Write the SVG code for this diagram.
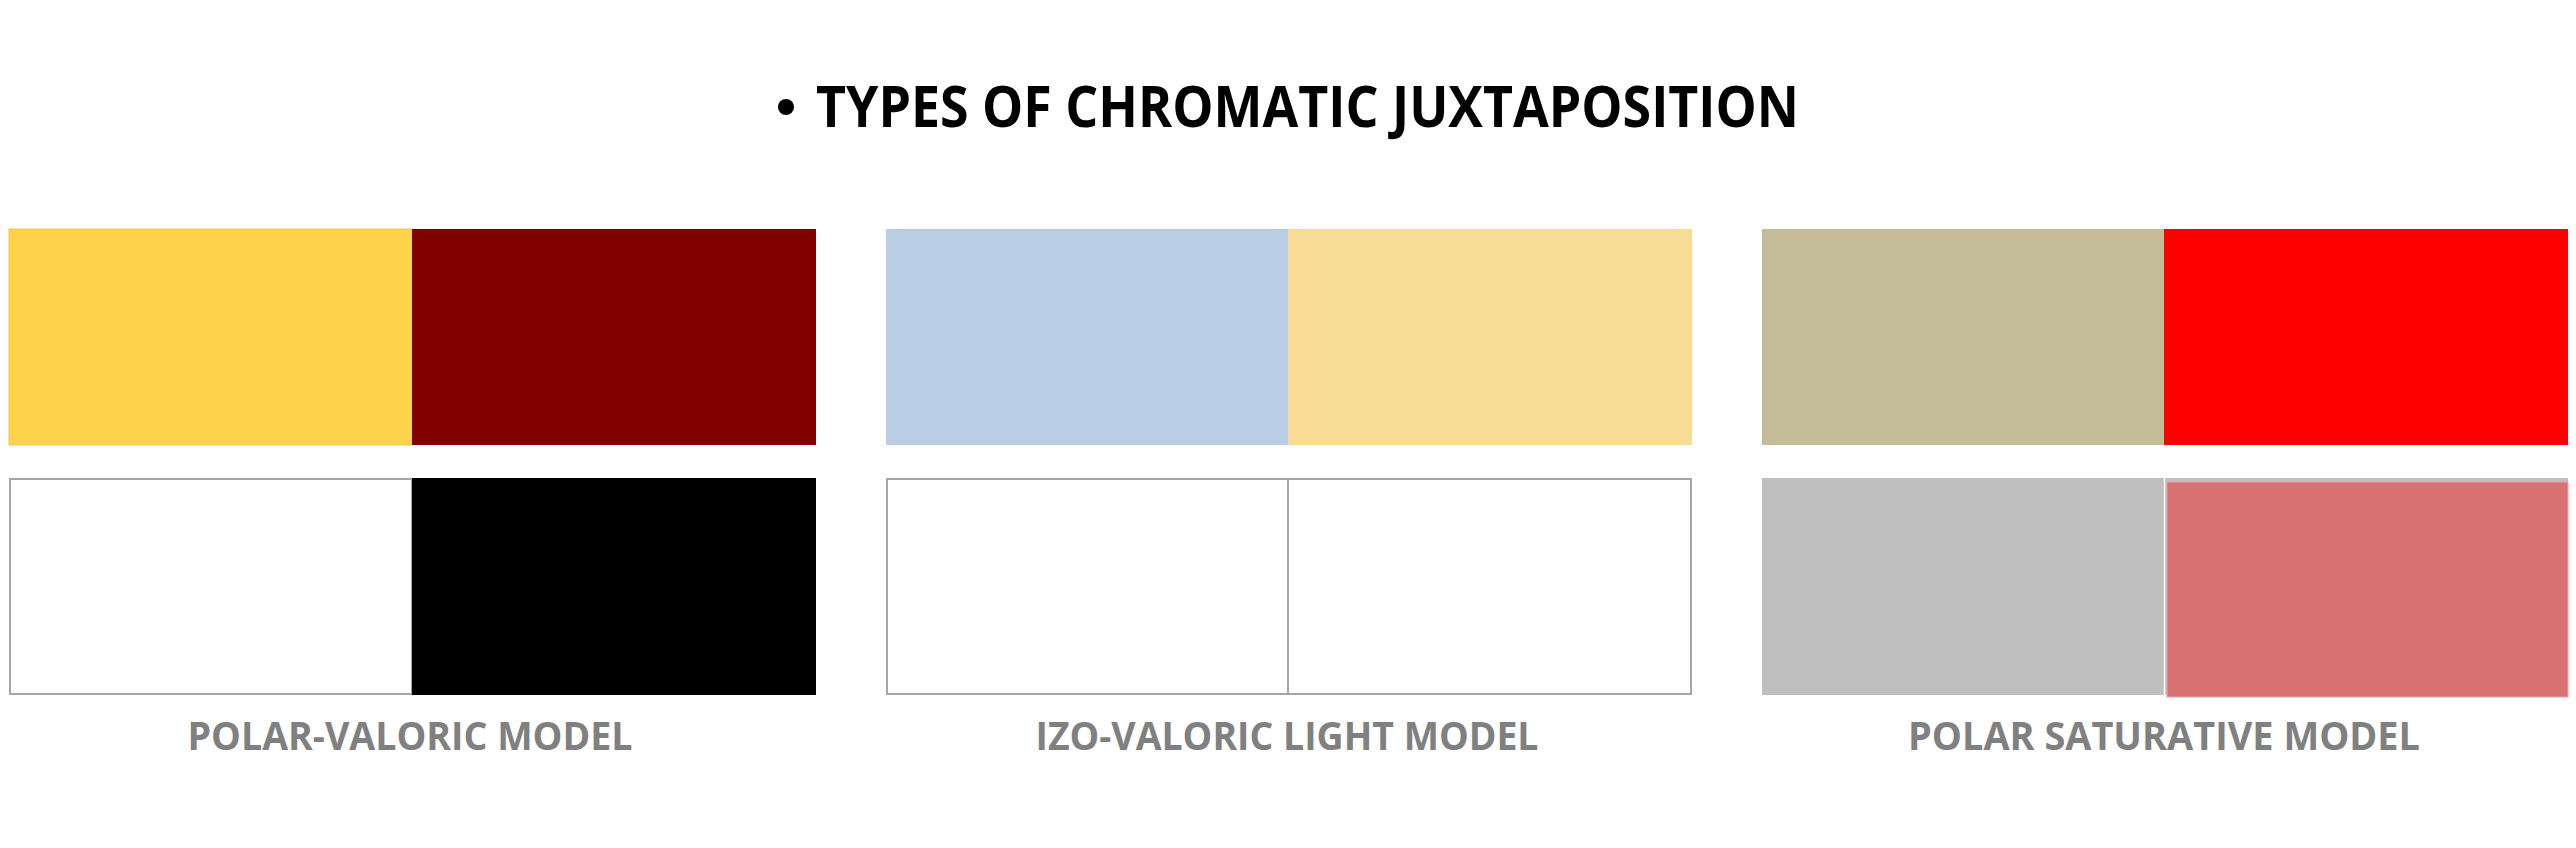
<svg xmlns="http://www.w3.org/2000/svg" width="2576" height="848" viewBox="0 0 2576 848">
<style>
.title{font-family:"Open Sans","Liberation Sans",sans-serif;font-weight:700;font-size:58px;fill:#000}
.label{font-family:"Open Sans","Liberation Sans",sans-serif;font-weight:700;font-size:39px;fill:#808080}
.cell{stroke:none}
.white{fill:#fff;stroke:#a6a6a6;stroke-width:2}
</style>
<rect width="2576" height="848" fill="#fff"/>
<g id="title">
<circle cx="786" cy="107" r="8" fill="#000"/>
<text class="title" x="816" y="127" textLength="983" lengthAdjust="spacingAndGlyphs">TYPES OF CHROMATIC JUXTAPOSITION</text>
</g>
<g id="polar-valoric">
<rect x="9" y="229" width="403" height="216" fill="#fed34a" stroke="#f4c45a" stroke-width="1"/>
<rect x="412" y="229" width="404" height="216" fill="#800000"/>
<rect class="white" x="10" y="479" width="402" height="215"/>
<rect x="412" y="478" width="404" height="217" fill="#000"/>
<text class="label" x="410" y="750" text-anchor="middle" textLength="445" lengthAdjust="spacingAndGlyphs">POLAR-VALORIC MODEL</text>
</g>
<g id="izo-valoric">
<rect x="886" y="229" width="402" height="216" fill="#b9cde4"/>
<rect x="1288" y="229" width="404" height="216" fill="#f8dc96"/>
<rect class="white" x="887" y="479" width="401" height="215"/>
<rect class="white" x="1288" y="479" width="403" height="215"/>
<text class="label" x="1287" y="750" text-anchor="middle" textLength="503" lengthAdjust="spacingAndGlyphs">IZO-VALORIC LIGHT MODEL</text>
</g>
<g id="polar-saturative">
<rect x="1762" y="229" width="402" height="216" fill="#c4bc96"/>
<rect x="2164" y="229" width="404" height="216" fill="#ff0000"/>
<rect x="1762" y="478" width="402" height="217" fill="#bfbfbf"/>
<rect x="2165" y="478" width="403" height="217" fill="#bfbfbf"/>
<line x1="2164.5" y1="478" x2="2164.5" y2="695" stroke="#fff" stroke-width="1.5"/>
<rect x="2167" y="482" width="401" height="215" fill="#d87273" stroke="#f4a0a0" stroke-width="1"/>
<text class="label" x="2164" y="750" text-anchor="middle" textLength="512" lengthAdjust="spacingAndGlyphs">POLAR SATURATIVE MODEL</text>
</g>
<g id="connectors"/>
</svg>
